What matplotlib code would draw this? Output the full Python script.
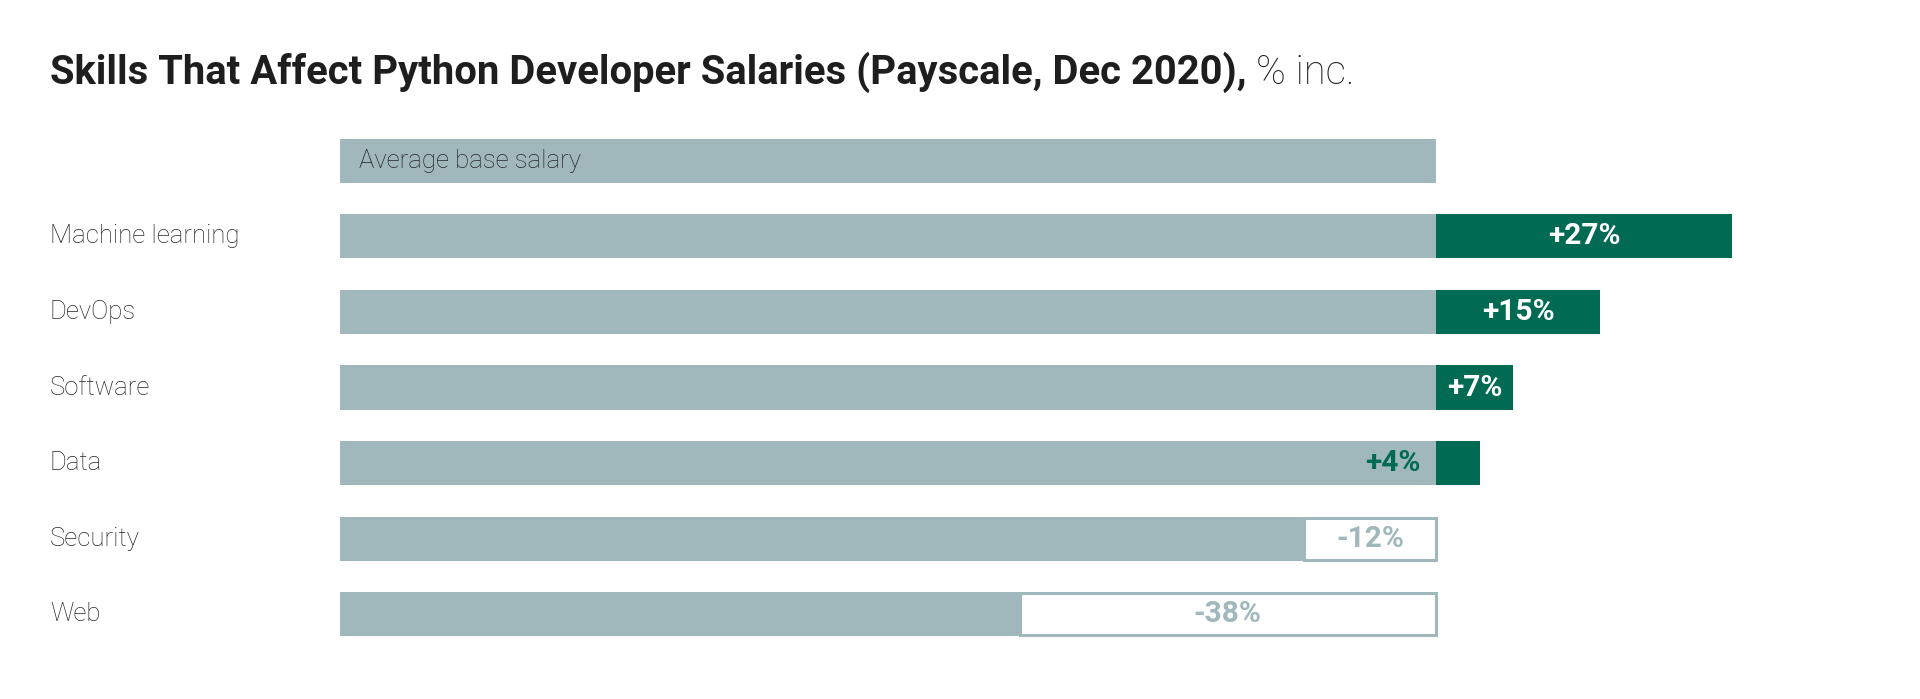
import matplotlib
matplotlib.use("Agg")
import matplotlib.pyplot as plt
import matplotlib.transforms as mtrans

categories = ["Machine learning", "DevOps", "Software", "Data", "Security", "Web"]
changes = [27, 15, 7, 4, -12, -38]
labels = ["+27%", "+15%", "+7%", "+4%", "-12%", "-38%"]
base_label = "Average base salary"
base_value = 100

GRAY = "#a0b8bb"
GREEN = "#006a52"
TEXT = "#262626"

W, H = 1920, 699
fig = plt.figure(figsize=(W / 100, H / 100), dpi=100)
fig.patch.set_facecolor("white")

left_px, base_px = 340, 1096
top_px, bot_px = 123, 652
ax = fig.add_axes([left_px / W, 1 - bot_px / H, (W - left_px) / W, (bot_px - top_px) / H])
ax.set_xlim(0, (W - left_px) / base_px * base_value)
ax.set_ylim(6.5, -0.5)
ax.axis("off")

bh = 0.585
ax.barh(0, base_value, height=bh, color=GRAY, linewidth=0)
ax.text(1.7, 0, base_label, va="center", ha="left", fontsize=18.5,
        family="Roboto", fontweight="light", color=TEXT)

blend = mtrans.blended_transform_factory(fig.transFigure, ax.transData)
for i, (c, v, lab) in enumerate(zip(categories, changes, labels), start=1):
    gw = base_value + min(0, v)
    ax.barh(i, gw, height=bh, color=GRAY, linewidth=0)
    if v > 0:
        ax.barh(i, v, left=base_value, height=bh, color=GREEN, linewidth=0)
        if v >= 6:
            ax.text(base_value + v / 2, i, lab, ha="center", va="center",
                    fontsize=21.5, fontweight="bold", family="Roboto", color="white")
        else:
            ax.text(base_value - 1.4, i, lab, ha="right", va="center",
                    fontsize=21.5, fontweight="bold", family="Roboto", color=GREEN)
    else:
        ax.barh(i, -v, left=base_value + v, height=bh - 0.03, color="white",
                edgecolor=GRAY, linewidth=2.2)
        ax.text(base_value + v / 2, i, lab, ha="center", va="center",
                fontsize=21.5, fontweight="bold", family="Roboto", color=GRAY)
    fig.text(50 / W, i, c, transform=blend, ha="left", va="center",
             fontsize=18.5, family="Roboto", fontweight="light", color=TEXT)

t1 = fig.text(50 / W, 1 - 84 / H, "Skills That Affect Python Developer Salaries (Payscale, Dec 2020),",
              ha="left", va="baseline", fontsize=28.8, fontweight="bold", family="Roboto", color="#1e1e1e")
fig.canvas.draw()
bb = t1.get_window_extent()
fig.text((bb.x1 + 9) / W, 1 - 84 / H, "% inc.", ha="left", va="baseline", fontsize=28.8,
         fontweight="light", family="Roboto", color="#1e1e1e")

fig.savefig("out.png", dpi=100, facecolor="white")
